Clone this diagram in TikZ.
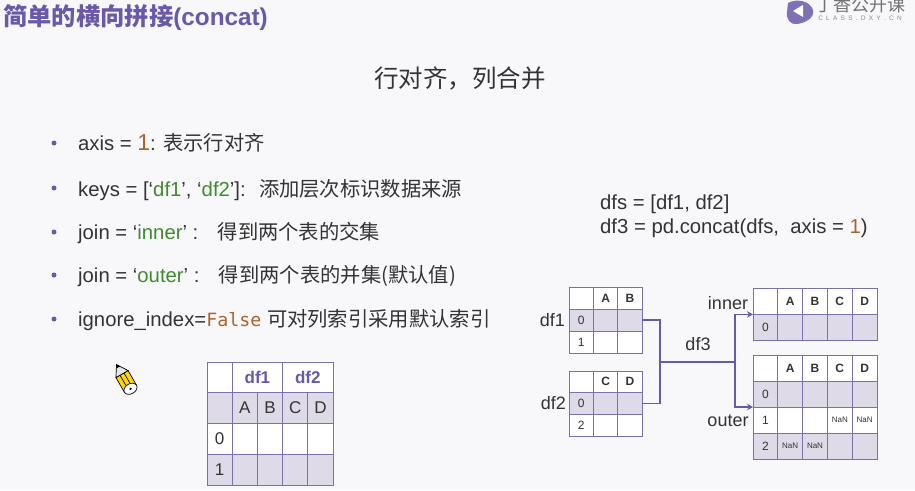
\documentclass[tikz,border=0pt]{standalone}
\usepackage{fontspec}
\setmainfont{Liberation Sans}
\setmonofont{DejaVu Sans Mono}
\newfontfamily\cjk{Noto Sans CJK SC}
\usepackage{tikz}
\usetikzlibrary{arrows.meta, positioning}

\definecolor{slidebg}{HTML}{F8F8FB}
\definecolor{dxpurple}{HTML}{6A58A8}
\definecolor{gridline}{HTML}{7C6FAB}
\definecolor{rowshade}{HTML}{DEDAE8}
\definecolor{inktext}{HTML}{333333}
\definecolor{strgreen}{HTML}{3F8A2E}
\definecolor{numbrown}{HTML}{A8652A}
\newcommand{\zh}[1]{{\cjk #1}}

% name, left x, top y, columns, rows, cell width, cell height
\newcommand{\dfgrid}[7]{%
  \foreach \r in {1,...,#5} {
    \foreach \c in {1,...,#4} {
      \ifodd\r \def\rowfill{white}\else\def\rowfill{rowshade}\fi
      \node[cell, fill=\rowfill, minimum width=#6pt, minimum height=#7pt]
        (#1-\r-\c) at ({#2+(\c-1)*#6}, {#3+(\r-1)*#7}) {};
    }
  }
}

\begin{document}
\begin{tikzpicture}[x=1pt, y=-1pt, >=Stealth,
      cell/.style={draw=gridline, line width=0.9pt, anchor=north west, inner sep=0pt, outer sep=0pt},
      body/.style={anchor=base west, font=\fontsize{20.3}{24}\selectfont, text=inktext, inner sep=0pt},
      dot/.style={circle, fill=dxpurple, inner sep=0pt, minimum size=5pt},
      tag/.style={font=\fontsize{18}{22}\selectfont, text=inktext, inner sep=0pt},
      head/.style={font=\fontsize{12}{14}\selectfont\bfseries, text=black!80, inner sep=0pt},
      idx/.style={font=\fontsize{12}{14}\selectfont, text=inktext, inner sep=0pt},
      nan/.style={font=\fontsize{8}{10}\selectfont, text=inktext, inner sep=0pt},
      big/.style={font=\fontsize{17}{20}\selectfont, text=inktext, inner sep=0pt},
      link/.style={draw=dxpurple, line width=1.8pt}]

    \useasboundingbox (0,0) rectangle (915,490);
    \fill[slidebg] (0,0) rectangle (915,490);

    % ---- Title ----
    \node[anchor=base west, inner sep=0pt, text=dxpurple, font=\fontsize{24.3}{28}\selectfont\bfseries]
      (title) at (3,25) {\zh{简单的横向拼接}(concat)};
    \node[font=\fontsize{24.5}{28}\selectfont, text=inktext, inner sep=0pt]
      (subtitle) at (460,78) {\zh{行对齐，列合并}};

    % ---- Logo ----
    \begin{scope}
    \clip (775,0) rectangle (915,35);
    \fill[dxpurple!85] (788,3) .. controls (797,-2) and (810,1) .. (813,10)
      .. controls (815,18) and (805,23) .. (797,24) .. controls (791,25) and (786,20) .. (787,12) -- cycle;
    \fill[white] (793,11) -- (803,5) -- (803,17) -- cycle;
    \node[font=\fontsize{18}{20}\selectfont, text=black!55, inner sep=0pt] (logo) at (860,5) {\zh{丁香公开课}};
    \node[font=\fontsize{6.5}{7}\selectfont, text=black!45, inner sep=0pt] (logosub) at (860,18.5) {C\,\,\,L\,\,\,A\,\,\,S\,\,\,S\,\,\,.\,\,\,D\,\,\,X\,\,\,Y\,\,\,.\,\,\,C\,\,\,N};
    \end{scope}

    % ---- Bullets ----
    \node[dot] (b1) at (54,143) {};
    \node[dot] (b2) at (54,188) {};
    \node[dot] (b3) at (54,232) {};
    \node[dot] (b4) at (54,275) {};
    \node[dot] (b5) at (54,319) {};

    \node[body] (t1) at (78,150) {axis = {\color{numbrown}\fontsize{23}{24}\selectfont 1}: \zh{表示行对齐}};
    \node[body] (t2) at (78,196) {keys = [‘{\color{strgreen}df1}’, ‘{\color{strgreen}df2}’]:\ \ \kern2pt\zh{添加层次标识数据来源}};
    \node[body] (t3) at (78,239) {join = ‘{\color{strgreen}inner}’ :\ \ \ \kern2.5pt\zh{得到两个表的交集}};
    \node[body] (t4) at (78,282) {join = ‘{\color{strgreen}outer}’ :\ \ \ \kern2.5pt\zh{得到两个表的并集(默认值)}};
    \node[body] (t5) at (78,326) {ignore\_index={\color{numbrown}\ttfamily\fontsize{18.3}{20}\selectfont False} \zh{可对列索引采用默认索引}};

    % ---- Code ----
    \node[body] (code1) at (600,209) {dfs = [df1, df2]};
    \node[body] (code2) at (600,233) {df3 = pd.concat(dfs,\ \ axis = {\color{numbrown}1})};

    % ---- Pencil ----
    \begin{scope}[shift={(126,381)}, rotate=30]
    \fill[yellow!75!orange, draw=black, line width=0.7pt] (-7,-8) rectangle (7,9);
    \draw[black, line width=0.7pt] (-2.3,-8) -- (-2.3,9) (2.3,-8) -- (2.3,9);
    \fill[black!10, draw=black, line width=0.7pt] (-7,-8) -- (0,-19) -- (7,-8) -- cycle;
    \fill[black] (-2.1,-15.7) -- (0,-19) -- (2.1,-15.7) -- cycle;
    \fill[white, draw=black, line width=0.7pt] (0,9) ellipse (7 and 5);
    \fill[black] (0,9) circle (1.3);
    \end{scope}

    % ---- Merged table ----
    \dfgrid{m}{207}{362}{5}{4}{25.2}{30.75}
    \node[cell, fill=white, minimum width=50.4pt, minimum height=30.75pt,
          font=\fontsize{17}{20}\selectfont\bfseries, text=dxpurple] (m-df1) at (232.2,362) {df1};
    \node[cell, fill=white, minimum width=50.4pt, minimum height=30.75pt,
          font=\fontsize{17}{20}\selectfont\bfseries, text=dxpurple] (m-df2) at (282.6,362) {df2};
    \node[big] at (m-2-2) {A};
    \node[big] at (m-2-3) {B};
    \node[big] at (m-2-4) {C};
    \node[big] at (m-2-5) {D};
    \node[big] at (m-3-1) {0};
    \node[big] at (m-4-1) {1};

    % ---- df1 / df2 ----
    \dfgrid{a}{569}{287}{3}{3}{24.4}{22}
    \node[head] at (a-1-2) {A};
    \node[head] at (a-1-3) {B};
    \node[idx] at (a-2-1) {0};
    \node[idx] at (a-3-1) {1};
    \dfgrid{b}{569}{371}{3}{3}{24.4}{21.7}
    \node[head] at (b-1-2) {C};
    \node[head] at (b-1-3) {D};
    \node[idx] at (b-2-1) {0};
    \node[idx] at (b-3-1) {2};
    \node[tag, anchor=east] (ldf1) at (565,320) {df1};
    \node[tag, anchor=east] (ldf2) at (566,403) {df2};

    % ---- inner / outer ----
    \dfgrid{i}{753}{288}{5}{2}{24.8}{26.4}
    \foreach \c/\h in {2/A,3/B,4/C,5/D} \node[head] at (i-1-\c) {\h};
    \node[idx] at (i-2-1) {0};
    \dfgrid{o}{753}{355}{5}{4}{24.8}{26}
    \foreach \c/\h in {2/A,3/B,4/C,5/D} \node[head] at (o-1-\c) {\h};
    \node[idx] at (o-2-1) {0};
    \node[idx] at (o-3-1) {1};
    \node[idx] at (o-4-1) {2};
    \node[nan] at (o-3-4) {NaN};
    \node[nan] at (o-3-5) {NaN};
    \node[nan] at (o-4-2) {NaN};
    \node[nan] at (o-4-3) {NaN};
    \node[tag] (linner) at (728,303) {inner};
    \node[tag] (louter) at (728,421) {outer};

    % ---- Connectors ----
    \coordinate (merge) at (660,362);
    \coordinate (fork) at (735,362);
    \node[tag] (ldf3) at (698,344) {df3};
    \draw[link] (a-2-3.east) -| (merge);
    \draw[link] (b-2-3.east) -| (merge);
    \draw[link] (merge) -- (fork);
    \draw[link, -{Stealth[length=6pt, width=6.5pt]}] (fork) |- (i-2-1.north west);
    \draw[link, -{Stealth[length=6pt, width=6.5pt]}] (fork) |- (o-3-1.north west);
\end{tikzpicture}
\end{document}
